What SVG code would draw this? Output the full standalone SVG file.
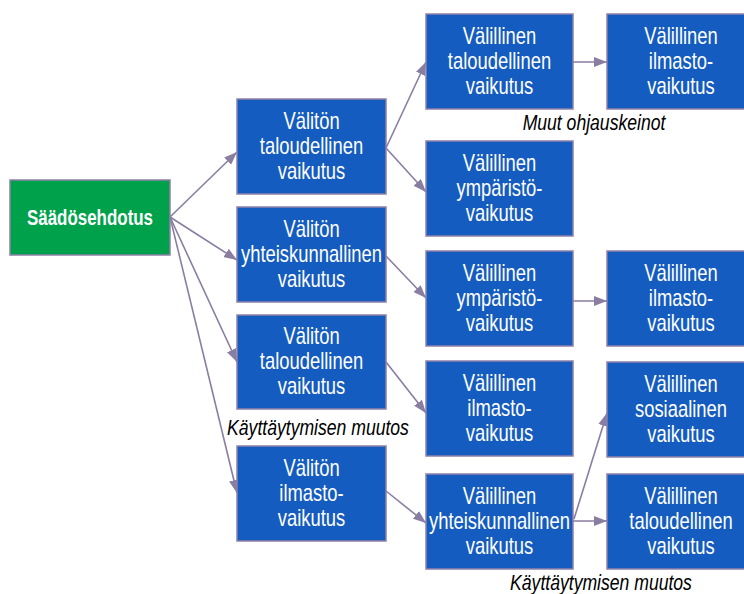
<svg xmlns="http://www.w3.org/2000/svg" width="744" height="594" viewBox="0 0 744 594">
<style>
.box{fill:#155CC0;stroke:#8E80A8;stroke-width:1.5}
.green{fill:#00A14B;stroke:#8E80A8;stroke-width:1.5}
.t{font-family:"Liberation Sans",Arial,sans-serif;font-size:23px;fill:#fff;text-anchor:middle}
.b{font-weight:bold;font-size:22px}
.lbl{font-family:"Liberation Sans",Arial,sans-serif;font-size:22px;font-style:italic;fill:#000;text-anchor:middle}
.c{fill:none;stroke:#8A7DA2;stroke-width:1.6;marker-end:url(#ah)}
</style>
<defs>
<marker id="ah" markerUnits="userSpaceOnUse" markerWidth="14" markerHeight="10" refX="13" refY="5" orient="auto">
<path d="M0,0 L13,5 L0,10 z" fill="#8A7DA2"/>
</marker>
</defs>
<rect width="744" height="594" fill="#fff"/>
<g id="connectors">
<path class="c" d="M170,217 L237,152"/>
<path class="c" d="M170,217 L237,260"/>
<path class="c" d="M170,217 L237,362"/>
<path class="c" d="M170,217 L237,493"/>
<path class="c" d="M386,148 L426,62"/>
<path class="c" d="M386,148 L426,192"/>
<path class="c" d="M386,256 L426,298"/>
<path class="c" d="M386,362 L426,413"/>
<path class="c" d="M386,491 L426,523"/>
<path class="c" d="M573,62 L607,62"/>
<path class="c" d="M573,301 L607,301"/>
<path class="c" d="M573,521 L607,521"/>
<path class="c" d="M574,519 L607,413"/>
</g>
<g id="saados"><rect class="green" x="10" y="180" width="160" height="75"/><g transform="translate(90,0) scale(0.77,1)"><text class="t b" x="0" y="225">Säädösehdotus</text></g></g>
<g id="v1"><rect class="box" x="237" y="99" width="149" height="95"/><g transform="translate(311.5,0) scale(0.8,1)"><text class="t" x="0" y="129">Välitön</text><text class="t" x="0" y="154">taloudellinen</text><text class="t" x="0" y="179">vaikutus</text></g></g>
<g id="v2"><rect class="box" x="237" y="207" width="149" height="95"/><g transform="translate(311.5,0) scale(0.8,1)"><text class="t" x="0" y="237">Välitön</text><text class="t" x="0" y="262">yhteiskunnallinen</text><text class="t" x="0" y="287">vaikutus</text></g></g>
<g id="v3"><rect class="box" x="237" y="315" width="149" height="94"/><g transform="translate(311.5,0) scale(0.8,1)"><text class="t" x="0" y="344">Välitön</text><text class="t" x="0" y="369">taloudellinen</text><text class="t" x="0" y="394">vaikutus</text></g></g>
<g id="v4"><rect class="box" x="237" y="446" width="149" height="95"/><g transform="translate(311.5,0) scale(0.8,1)"><text class="t" x="0" y="476">Välitön</text><text class="t" x="0" y="501">ilmasto-</text><text class="t" x="0" y="526">vaikutus</text></g></g>
<g id="a"><rect class="box" x="426" y="14" width="147" height="95"/><g transform="translate(499.5,0) scale(0.8,1)"><text class="t" x="0" y="44">Välillinen</text><text class="t" x="0" y="69">taloudellinen</text><text class="t" x="0" y="94">vaikutus</text></g></g>
<g id="b"><rect class="box" x="426" y="141" width="147" height="95"/><g transform="translate(499.5,0) scale(0.8,1)"><text class="t" x="0" y="171">Välillinen</text><text class="t" x="0" y="196">ympäristö-</text><text class="t" x="0" y="221">vaikutus</text></g></g>
<g id="c"><rect class="box" x="426" y="251" width="147" height="95"/><g transform="translate(499.5,0) scale(0.8,1)"><text class="t" x="0" y="281">Välillinen</text><text class="t" x="0" y="306">ympäristö-</text><text class="t" x="0" y="331">vaikutus</text></g></g>
<g id="d"><rect class="box" x="426" y="361" width="147" height="95"/><g transform="translate(499.5,0) scale(0.8,1)"><text class="t" x="0" y="391">Välillinen</text><text class="t" x="0" y="416">ilmasto-</text><text class="t" x="0" y="441">vaikutus</text></g></g>
<g id="e"><rect class="box" x="426" y="474" width="147" height="95"/><g transform="translate(499.5,0) scale(0.8,1)"><text class="t" x="0" y="504">Välillinen</text><text class="t" x="0" y="529">yhteiskunnallinen</text><text class="t" x="0" y="554">vaikutus</text></g></g>
<g id="f"><rect class="box" x="607" y="14" width="148" height="95"/><g transform="translate(681,0) scale(0.8,1)"><text class="t" x="0" y="44">Välillinen</text><text class="t" x="0" y="69">ilmasto-</text><text class="t" x="0" y="94">vaikutus</text></g></g>
<g id="g"><rect class="box" x="607" y="251" width="148" height="95"/><g transform="translate(681,0) scale(0.8,1)"><text class="t" x="0" y="281">Välillinen</text><text class="t" x="0" y="306">ilmasto-</text><text class="t" x="0" y="331">vaikutus</text></g></g>
<g id="h"><rect class="box" x="607" y="362" width="148" height="95"/><g transform="translate(681,0) scale(0.8,1)"><text class="t" x="0" y="392">Välillinen</text><text class="t" x="0" y="417">sosiaalinen</text><text class="t" x="0" y="442">vaikutus</text></g></g>
<g id="i"><rect class="box" x="607" y="474" width="148" height="95"/><g transform="translate(681,0) scale(0.8,1)"><text class="t" x="0" y="504">Välillinen</text><text class="t" x="0" y="529">taloudellinen</text><text class="t" x="0" y="554">vaikutus</text></g></g>
<g id="labels">
<g transform="translate(594,0) scale(0.8,1)"><text class="lbl" x="0" y="130">Muut ohjauskeinot</text></g>
<g transform="translate(318,0) scale(0.8,1)"><text class="lbl" x="0" y="435">Käyttäytymisen muutos</text></g>
<g transform="translate(601,0) scale(0.8,1)"><text class="lbl" x="0" y="590">Käyttäytymisen muutos</text></g>
</g>
</svg>
